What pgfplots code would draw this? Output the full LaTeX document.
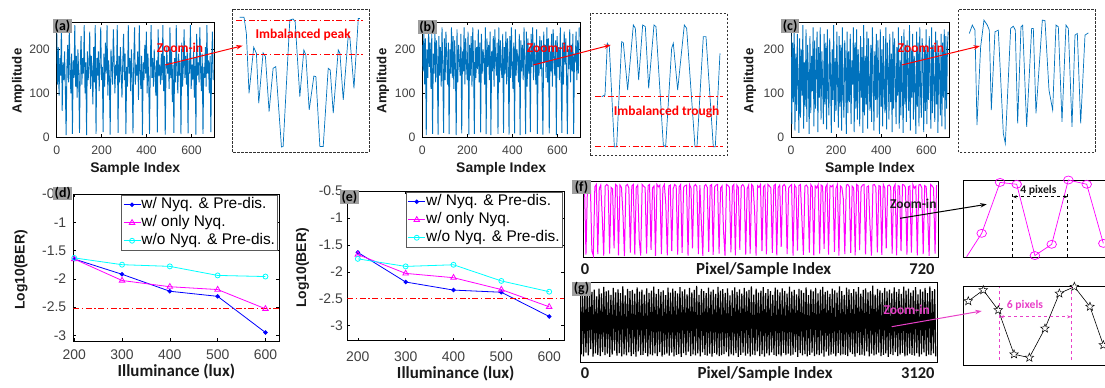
\documentclass[border=0pt]{standalone}
\usepackage{fontspec}
\setmainfont{Liberation Sans}
\newfontfamily\calib{Carlito}
\usepackage{pgfplots}
\usepackage{pgfplotstable}
\pgfplotsset{compat=1.18}
\usetikzlibrary{arrows.meta}

\definecolor{mblue}{rgb}{0,0.447,0.741}
\definecolor{tickgray}{gray}{0.25}
\definecolor{txtgray}{gray}{0.1}
\definecolor{lblgray}{gray}{0.62}
\definecolor{boxgray}{gray}{0.2}
\definecolor{pinkm}{RGB}{232,64,200}
\definecolor{mag}{RGB}{255,0,255}
\definecolor{cyn}{RGB}{0,255,255}
\newcommand\fsz[1]{\fontsize{#1}{#1}\selectfont}

\pgfdeclareplotmark{ostar}{%
 \pgfpathmoveto{\pgfpointpolar{90}{\pgfplotmarksize}}%
 \pgfpathlineto{\pgfpointpolar{126}{0.42*\pgfplotmarksize}}%
 \pgfpathlineto{\pgfpointpolar{162}{\pgfplotmarksize}}%
 \pgfpathlineto{\pgfpointpolar{198}{0.42*\pgfplotmarksize}}%
 \pgfpathlineto{\pgfpointpolar{234}{\pgfplotmarksize}}%
 \pgfpathlineto{\pgfpointpolar{270}{0.42*\pgfplotmarksize}}%
 \pgfpathlineto{\pgfpointpolar{306}{\pgfplotmarksize}}%
 \pgfpathlineto{\pgfpointpolar{342}{0.42*\pgfplotmarksize}}%
 \pgfpathlineto{\pgfpointpolar{18}{\pgfplotmarksize}}%
 \pgfpathlineto{\pgfpointpolar{54}{0.42*\pgfplotmarksize}}%
 \pgfpathclose\pgfusepathqfillstroke}

% ---- signal (a): imbalanced peaks
\pgfplotstableread[row sep=\\,header=false]{
250\\ 120\\ 205\\ 95\\ 180\\ 140\\ 255\\ 60\\ 170\\ 130\\ 195\\ 110\\ 5\\ 160\\ 210\\ 125\\ 245\\ 150\\ 100\\ 190\\
8\\ 175\\ 135\\ 255\\ 115\\ 185\\ 90\\ 200\\ 140\\ 10\\ 165\\ 230\\ 120\\ 180\\ 145\\ 255\\ 100\\ 170\\ 5\\ 195\\
130\\ 160\\ 240\\ 110\\ 185\\ 150\\ 75\\ 205\\ 125\\ 255\\ 8\\ 180\\ 140\\ 195\\ 105\\ 170\\ 250\\ 130\\ 160\\ 12\\
190\\ 115\\ 215\\ 145\\ 255\\ 95\\ 175\\ 135\\ 6\\ 200\\ 160\\ 120\\ 245\\ 180\\ 100\\ 165\\ 140\\ 255\\ 10\\ 185\\
125\\ 205\\ 150\\ 90\\ 170\\ 235\\ 130\\ 190\\ 7\\ 160\\ 115\\ 255\\ 145\\ 180\\ 105\\ 200\\ 135\\ 9\\ 175\\ 250\\
120\\ 165\\ 140\\ 195\\ 85\\ 255\\ 150\\ 110\\ 185\\ 5\\ 170\\ 130\\ 210\\ 145\\ 240\\ 100\\ 190\\ 125\\ 8\\ 160\\
255\\ 135\\ 180\\ 115\\ 200\\ 150\\ 95\\ 175\\ 11\\ 245\\ 140\\ 165\\ 120\\ 190\\ 130\\ 255\\ 105\\ 185\\ 6\\ 155\\
205\\ 145\\ 170\\ 110\\ 250\\ 135\\ 195\\ 80\\ 165\\ 10\\ 180\\ 125\\ 255\\ 150\\ 100\\ 190\\ 140\\ 170\\ 7\\ 215\\
115\\ 160\\ 245\\ 135\\ 185\\ 120\\ 200\\ 9\\ 175\\ 145\\ 255\\ 110\\ 165\\ 130\\ 195\\ 90\\ 180\\ 6\\ 235\\ 140\\
170\\ 125\\ 250\\ 150\\ 105\\ 190\\ 8\\ 160\\ 135\\ 205\\ 115\\ 255\\ 145\\ 175\\ 100\\ 185\\ 12\\ 165\\ 240\\ 130\\
}\sigA
% ---- signal (b): imbalanced troughs
\pgfplotstableread[row sep=\\,header=false]{
210\\ 150\\ 240\\ 120\\ 225\\ 5\\ 200\\ 135\\ 250\\ 160\\ 215\\ 110\\ 235\\ 8\\ 190\\ 145\\ 245\\ 125\\ 220\\ 170\\
6\\ 230\\ 140\\ 205\\ 115\\ 250\\ 155\\ 10\\ 225\\ 130\\ 240\\ 180\\ 120\\ 215\\ 7\\ 200\\ 145\\ 250\\ 135\\ 230\\
110\\ 220\\ 160\\ 5\\ 245\\ 125\\ 210\\ 175\\ 140\\ 235\\ 9\\ 195\\ 150\\ 250\\ 120\\ 225\\ 165\\ 130\\ 240\\ 6\\
210\\ 140\\ 230\\ 115\\ 250\\ 170\\ 8\\ 220\\ 135\\ 205\\ 155\\ 245\\ 125\\ 215\\ 11\\ 235\\ 145\\ 200\\ 180\\ 120\\
250\\ 7\\ 225\\ 160\\ 210\\ 130\\ 240\\ 5\\ 195\\ 150\\ 230\\ 115\\ 245\\ 175\\ 140\\ 215\\ 8\\ 250\\ 125\\ 220\\
160\\ 135\\ 235\\ 10\\ 205\\ 145\\ 240\\ 120\\ 225\\ 170\\ 6\\ 230\\ 135\\ 250\\ 155\\ 110\\ 215\\ 9\\ 245\\ 140\\
200\\ 180\\ 125\\ 235\\ 5\\ 220\\ 150\\ 210\\ 130\\ 250\\ 165\\ 7\\ 240\\ 115\\ 225\\ 145\\ 205\\ 12\\ 235\\ 160\\
250\\ 130\\ 215\\ 175\\ 120\\ 245\\ 8\\ 200\\ 140\\ 230\\ 155\\ 220\\ 110\\ 6\\ 240\\ 170\\ 210\\ 135\\ 250\\ 125\\
225\\ 9\\ 195\\ 150\\ 235\\ 115\\ 245\\ 180\\ 140\\ 220\\ 5\\ 230\\ 160\\ 205\\ 130\\ 250\\ 145\\ 10\\ 215\\ 120\\
240\\ 165\\ 225\\ 135\\ 7\\ 200\\ 155\\ 245\\ 125\\ 210\\ 150\\ 235\\ 8\\ 190\\ 170\\ 240\\ 130\\ 220\\ 145\\ 250\\
}\sigB
% ---- signal (c): balanced
\pgfplotstableread[row sep=\\,header=false]{
240\\ 30\\ 215\\ 80\\ 250\\ 15\\ 190\\ 60\\ 235\\ 120\\ 10\\ 225\\ 45\\ 200\\ 95\\ 255\\ 20\\ 170\\ 70\\ 245\\
35\\ 210\\ 140\\ 8\\ 230\\ 55\\ 185\\ 105\\ 250\\ 25\\ 220\\ 65\\ 160\\ 240\\ 12\\ 205\\ 90\\ 250\\ 40\\ 195\\
130\\ 30\\ 235\\ 75\\ 215\\ 18\\ 245\\ 110\\ 50\\ 225\\ 150\\ 10\\ 200\\ 85\\ 255\\ 35\\ 180\\ 60\\ 240\\ 125\\
22\\ 230\\ 70\\ 210\\ 15\\ 250\\ 100\\ 45\\ 220\\ 165\\ 8\\ 240\\ 55\\ 195\\ 80\\ 235\\ 30\\ 175\\ 120\\ 250\\
12\\ 215\\ 65\\ 245\\ 40\\ 200\\ 140\\ 25\\ 230\\ 90\\ 205\\ 10\\ 255\\ 50\\ 185\\ 75\\ 240\\ 20\\ 225\\ 115\\
60\\ 210\\ 35\\ 250\\ 150\\ 15\\ 195\\ 85\\ 235\\ 45\\ 220\\ 130\\ 8\\ 245\\ 70\\ 200\\ 25\\ 230\\ 105\\ 55\\
250\\ 18\\ 215\\ 160\\ 40\\ 235\\ 80\\ 190\\ 12\\ 240\\ 65\\ 225\\ 135\\ 30\\ 205\\ 95\\ 250\\ 20\\ 175\\ 50\\
230\\ 110\\ 10\\ 245\\ 75\\ 210\\ 35\\ 220\\ 145\\ 60\\ 255\\ 15\\ 200\\ 90\\ 235\\ 40\\ 185\\ 125\\ 8\\ 240\\
70\\ 215\\ 25\\ 250\\ 100\\ 45\\ 225\\ 170\\ 12\\ 205\\ 60\\ 245\\ 30\\ 195\\ 85\\ 230\\ 140\\ 20\\ 250\\ 55\\
210\\ 115\\ 35\\ 240\\ 75\\ 220\\ 10\\ 200\\ 155\\ 50\\ 235\\ 25\\ 215\\ 90\\ 245\\ 18\\ 230\\ 65\\ 205\\ 240\\
}\sigC
% ---- signal (f): 720 pixels
\pgfplotstableread[row sep=\\,header=false]{
245\\ 250\\ 8\\ 240\\ 248\\ 245\\ 20\\ 5\\ 242\\ 250\\ 10\\ 236\\ 248\\ 140\\ 5\\ 244\\ 250\\ 246\\ 12\\ 240\\
235\\ 30\\ 250\\ 245\\ 6\\ 248\\ 240\\ 150\\ 3\\ 246\\ 250\\ 238\\ 15\\ 245\\ 250\\ 8\\ 240\\ 248\\ 60\\ 5\\
250\\ 244\\ 240\\ 12\\ 246\\ 250\\ 25\\ 238\\ 245\\ 4\\ 250\\ 242\\ 248\\ 10\\ 240\\ 250\\ 180\\ 6\\ 245\\ 248\\
20\\ 236\\ 250\\ 245\\ 8\\ 242\\ 250\\ 14\\ 240\\ 246\\ 248\\ 5\\ 250\\ 238\\ 30\\ 244\\ 250\\ 242\\ 10\\ 248\\
120\\ 4\\ 245\\ 250\\ 240\\ 18\\ 246\\ 250\\ 7\\ 242\\ 248\\ 250\\ 12\\ 238\\ 245\\ 90\\ 5\\ 250\\ 246\\ 240\\
16\\ 244\\ 250\\ 6\\ 248\\ 240\\ 25\\ 245\\ 250\\ 242\\ 8\\ 236\\ 248\\ 12\\ 250\\ 244\\ 160\\ 5\\ 246\\ 240\\
250\\ 20\\ 242\\ 248\\ 9\\ 250\\ 245\\ 238\\ 14\\ 246\\ 250\\ 6\\ 240\\ 248\\ 35\\ 244\\ 250\\ 242\\ 10\\ 238\\
245\\ 250\\ 5\\ 248\\ 240\\ 22\\ 246\\ 250\\ 130\\ 7\\ 244\\ 248\\ 240\\ 15\\ 250\\ 242\\ 6\\ 245\\ 238\\ 250\\
12\\ 248\\ 244\\ 28\\ 240\\ 250\\ 8\\ 246\\ 242\\ 248\\ 18\\ 236\\ 250\\ 5\\ 245\\ 240\\ 200\\ 10\\ 248\\ 250\\
242\\ 14\\ 244\\ 238\\ 6\\ 250\\ 246\\ 24\\ 240\\ 248\\ 250\\ 9\\ 242\\ 245\\ 110\\ 5\\ 248\\ 250\\ 240\\ 16\\
246\\ 244\\ 7\\ 250\\ 238\\ 30\\ 245\\ 248\\ 242\\ 12\\ 240\\ 250\\ 6\\ 246\\ 244\\ 20\\ 250\\ 248\\ 240\\ 8\\
242\\ 245\\ 15\\ 250\\ 238\\ 244\\ 6\\ 248\\ 250\\ 240\\ 10\\ 246\\ 242\\ 150\\ 4\\ 250\\ 245\\ 238\\ 12\\ 248\\
}\sigF
% ---- signal (g): 3120 pixels
\pgfplotstableread[row sep=\\,header=false]{
235\\ 12\\ 228\\ 5\\ 240\\ 18\\ 222\\ 8\\ 245\\ 30\\ 230\\ 4\\ 238\\ 15\\ 215\\ 10\\ 242\\ 6\\ 225\\ 20\\
248\\ 9\\ 232\\ 14\\ 236\\ 3\\ 220\\ 11\\ 244\\ 25\\ 229\\ 7\\ 239\\ 16\\ 226\\ 5\\ 250\\ 12\\ 218\\ 8\\
241\\ 19\\ 233\\ 6\\ 237\\ 13\\ 224\\ 4\\ 246\\ 22\\ 231\\ 9\\ 238\\ 10\\ 221\\ 17\\ 243\\ 5\\ 227\\ 12\\
235\\ 8\\ 249\\ 15\\ 223\\ 6\\ 240\\ 20\\ 230\\ 4\\ 236\\ 11\\ 219\\ 14\\ 245\\ 7\\ 228\\ 18\\ 242\\ 5\\
234\\ 10\\ 225\\ 13\\ 247\\ 3\\ 232\\ 16\\ 239\\ 9\\ 222\\ 21\\ 244\\ 6\\ 229\\ 12\\ 237\\ 8\\ 251\\ 15\\
220\\ 5\\ 241\\ 19\\ 233\\ 10\\ 226\\ 7\\ 245\\ 14\\ 231\\ 4\\ 238\\ 17\\ 223\\ 11\\ 248\\ 6\\ 235\\ 9\\
240\\ 13\\ 227\\ 20\\ 243\\ 5\\ 218\\ 12\\ 236\\ 8\\ 246\\ 16\\ 230\\ 3\\ 239\\ 10\\ 224\\ 18\\ 244\\ 7\\
232\\ 14\\ 237\\ 5\\ 250\\ 11\\ 221\\ 9\\ 242\\ 22\\ 228\\ 6\\ 235\\ 13\\ 247\\ 4\\ 226\\ 15\\ 240\\ 8\\
233\\ 19\\ 220\\ 10\\ 245\\ 6\\ 238\\ 12\\ 229\\ 5\\ 243\\ 17\\ 234\\ 9\\ 224\\ 14\\ 249\\ 7\\ 231\\ 11\\
237\\ 20\\ 222\\ 3\\ 241\\ 16\\ 236\\ 8\\ 227\\ 13\\ 246\\ 5\\ 219\\ 10\\ 239\\ 18\\ 232\\ 6\\ 244\\ 12\\
225\\ 9\\ 238\\ 15\\ 248\\ 4\\ 230\\ 21\\ 235\\ 7\\ 223\\ 11\\ 242\\ 14\\ 236\\ 5\\ 228\\ 17\\ 250\\ 8\\
233\\ 12\\ 220\\ 10\\ 245\\ 6\\ 239\\ 19\\ 226\\ 13\\ 240\\ 4\\ 231\\ 16\\ 247\\ 9\\ 224\\ 11\\ 237\\ 7\\
243\\ 22\\ 229\\ 5\\ 234\\ 14\\ 252\\ 8\\ 221\\ 12\\ 241\\ 18\\ 236\\ 6\\ 227\\ 10\\ 244\\ 15\\ 232\\ 3\\
238\\ 13\\ 225\\ 9\\ 246\\ 20\\ 230\\ 6\\ 240\\ 11\\ 223\\ 17\\ 249\\ 5\\ 235\\ 8\\ 242\\ 14\\ 228\\ 10\\
236\\ 7\\ 247\\ 16\\ 222\\ 4\\ 239\\ 12\\ 231\\ 19\\ 244\\ 6\\ 226\\ 11\\ 250\\ 9\\ 233\\ 15\\ 240\\ 5\\
}\sigG

\tikzset{
 rdd/.style={red, line width=0.9bp, dash pattern=on 6bp off 2.5bp on 1.5bp off 2.5bp},
 plab/.style={fill=lblgray, inner sep=0pt, anchor=north west, minimum width=18.5bp, minimum height=13.5bp, font=\calib\bfseries\fsz{14}},
 zarrow/.style={line width=1bp, -{Stealth[length=6.5bp,width=4.5bp]}},
 ztext/.style={font=\calib\bfseries\fsz{13.5}},
}
\pgfplotsset{
 mybase/.style={scale only axis, anchor=north west,
   axis line style={line width=0.6bp, black},
   tick align=inside, major tick length=3bp,
   every tick/.style={black, line width=0.5bp},
   /pgf/number format/assume math mode=true,
   tick label style={text=tickgray}},
 sig/.style={mybase, height=115.3bp, xmin=0, xmax=700, ymin=0, ymax=262,
   xtick={0,200,400,600}, ytick={0,100,200},
   tick label style={font=\fsz{12.3}},
   xticklabel style={yshift=-5bp}, yticklabel style={xshift=-3.4bp}},
 zbox/.style={scale only axis, anchor=north west, ticks=none, clip=true,
   axis line style={line width=0.8bp, boxgray, dash pattern=on 2.5bp off 1.5bp}},
 ber/.style={mybase, ytick={-3,-2.5,-2,-1.5,-1,-0.5}, xtick={200,300,400,500,600},
   tick label style={font=\fsz{14}},
   legend style={at={(1,1)}, anchor=north east, xshift=-2bp, yshift=-1bp,
     font=\fsz{15.5}, draw=gray!70!black, line width=0.5bp, inner sep=1.5bp,
     row sep=2bp, nodes={inner sep=0.5bp, text height=11.5bp, text depth=3.5bp},
     cells={anchor=west}},
   legend image code/.code={\draw[mark repeat=2,mark phase=2,##1] plot coordinates {(0bp,0bp)(8.5bp,0bp)(17bp,0bp)};}},
 pix/.style={scale only axis, anchor=north west, ticks=none, axis line style={line width=0.8bp, black}},
}

\begin{document}
\begin{tikzpicture}
\useasboundingbox (0,0) rectangle (1105bp,-388bp);

% ===================== (a)
\begin{axis}[sig, at={(56.7bp,-22bp)}, width=157.3bp]
\addplot[mblue, line width=0.9bp] table[x expr=\coordindex*3.5, y index=0] {\sigA};
\end{axis}
\begin{axis}[zbox, at={(232bp,-9bp)}, width=137bp, height=143bp, xmin=0, xmax=41, ymin=0, ymax=258]
\addplot[mblue, line width=0.7bp] coordinates {(2.3,243)(3.6,243)(4.3,214)(5.1,106)(6.5,189)(7.3,178)(8.0,88)(9.3,179)(10.0,172)(11.1,73)(12.3,151)(13.1,154)(13.8,94)(14.8,9)(15.3,10)(17.3,238)(18.3,240)(18.9,235)(20.3,100)(21.5,184)(22.1,175)(23.1,76)(24.5,137)(25.1,136)(26.3,10)(27.3,10)(28.8,151)(29.4,148)(30.3,70)(31.8,184)(32.3,178)(33.3,94)(34.8,211)(35.3,205)(36.5,115)(37.8,241)(38.3,241)};
\addplot[rdd] coordinates {(1.3,238)(39.3,238)};
\addplot[rdd] coordinates {(1.3,176)(39.3,176)};
\node[ztext, red] at (axis cs:21.3,211) {Imbalanced peak};
\end{axis}

% ===================== (b)
\begin{axis}[sig, at={(422.3bp,-22bp)}, width=157.7bp]
\addplot[mblue, line width=0.9bp] table[x expr=\coordindex*3.5, y index=0] {\sigB};
\end{axis}
\begin{axis}[zbox, at={(590bp,-13.3bp)}, width=137.3bp, height=142.3bp, xmin=0, xmax=41.2, ymin=0, ymax=256]
\addplot[mblue, line width=0.7bp] coordinates {(3.5,106)(4.5,109)(5.2,202)(5.8,196)(7.3,16)(8.0,16)(9.5,205)(10.0,203)(11.3,118)(13.0,235)(13.6,229)(14.6,136)(15.8,235)(16.6,232)(17.6,121)(19.2,235)(19.8,232)(22.0,19)(22.7,16)(24.5,193)(25.0,202)(26.3,118)(28.3,235)(29.0,229)(31.5,16)(32.1,16)(34.0,214)(34.8,214)(37.0,16)(37.6,16)(39.0,184)};
\addplot[rdd] coordinates {(1.5,106)(40,106)};
\addplot[rdd] coordinates {(1.5,16)(40,16)};
\node[ztext, red] at (axis cs:23,79) {Imbalanced trough};
\end{axis}

% ===================== (c)
\begin{axis}[sig, at={(791bp,-22bp)}, width=158bp]
\addplot[mblue, line width=0.9bp] table[x expr=\coordindex*3.5, y index=0] {\sigC};
\end{axis}
\begin{axis}[zbox, at={(958.3bp,-9bp)}, width=136.7bp, height=143.3bp, xmin=0, xmax=41, ymin=0, ymax=258]
\addplot[mblue, line width=0.7bp] coordinates {(3.3,214)(4.2,229)(5.0,220)(5.6,49)(6.7,190)(7.7,238)(8.7,229)(9.3,220)(9.9,76)(11.0,217)(12.0,220)(13.5,34)(14.1,16)(15.7,223)(16.5,227)(17.1,220)(17.8,52)(18.8,226)(19.3,229)(20.5,46)(22.0,223)(22.5,223)(23.3,70)(25.2,238)(26.0,237)(27.2,112)(28.3,76)(29.3,229)(30.0,226)(31.1,55)(32.3,229)(33.0,223)(34.1,46)(35.0,211)(35.7,214)(36.7,52)(38.0,211)(39.0,215)};
\end{axis}

% ===================== (d)
\begin{axis}[ber, at={(73.3bp,-194bp)}, width=206bp, height=147bp, xmin=198, xmax=629, ymin=-3.1, ymax=-0.5,
  xticklabel style={yshift=-5.5bp}, yticklabel style={xshift=-3.6bp}]
\addplot[blue, line width=0.8bp, mark=*, mark size=1.8bp] coordinates {(200,-1.65)(300,-1.92)(400,-2.22)(500,-2.31)(600,-2.95)};
\addlegendentry{w/ Nyq. \& Pre-dis.}
\addplot[mag, line width=0.8bp, mark=triangle, mark size=3.2bp, mark options={solid}] coordinates {(200,-1.65)(300,-2.03)(400,-2.14)(500,-2.19)(600,-2.53)};
\addlegendentry{w/ only Nyq.}
\addplot[cyn, line width=0.8bp, mark=o, mark size=2.5bp] coordinates {(200,-1.63)(300,-1.75)(400,-1.78)(500,-1.94)(600,-1.96)};
\addlegendentry{w/o Nyq. \& Pre-dis.}
\addplot[rdd, forget plot] coordinates {(198,-2.52)(629,-2.52)};
\end{axis}

% ===================== (e)
\begin{axis}[ber, at={(347.3bp,-191bp)}, width=216.7bp, height=149.7bp, xmin=178, xmax=631, ymin=-3.28, ymax=-0.5,
  xticklabel style={yshift=-7.5bp}, yticklabel style={xshift=-1bp}]
\addplot[blue, line width=0.8bp, mark=*, mark size=1.8bp] coordinates {(200,-1.64)(300,-2.19)(400,-2.34)(500,-2.38)(600,-2.83)};
\addlegendentry{w/ Nyq. \& Pre-dis.}
\addplot[mag, line width=0.8bp, mark=triangle, mark size=3.2bp] coordinates {(200,-1.68)(300,-2.03)(400,-2.11)(500,-2.33)(600,-2.65)};
\addlegendentry{w/ only Nyq.}
\addplot[cyn, line width=0.8bp, mark=o, mark size=2.5bp] coordinates {(200,-1.76)(300,-1.90)(400,-1.87)(500,-2.17)(600,-2.37)};
\addlegendentry{w/o Nyq. \& Pre-dis.}
\addplot[rdd, forget plot] coordinates {(178,-2.49)(631,-2.49)};
\end{axis}

% ===================== (f)
\begin{axis}[pix, at={(583bp,-181bp)}, width=355bp, height=76bp, xmin=0, xmax=720, ymin=0, ymax=262]
\addplot[mag, line width=1bp] table[x expr=\coordindex*3, y index=0] {\sigF};
\end{axis}
\begin{axis}[pix, at={(963.3bp,-180bp)}, width=148.7bp, height=77.7bp, xmin=0, xmax=8.58, ymin=0, ymax=255, clip=false]
\addplot[mag, line width=0.7bp, mark=o, mark size=4bp, mark indices={2,...,9}, mark options={xscale=1.2}] coordinates {(0.19,3)(1.06,80)(2.12,247)(3.08,241)(4.13,7)(5.10,44)(6.06,255)(7.12,241)(8.08,47)};
\draw[black, line width=0.9bp, dashed] (axis cs:2.85,3) -- (axis cs:2.85,211);
\draw[black, line width=0.9bp, dashed] (axis cs:6.02,3) -- (axis cs:6.02,211);
\draw[black, line width=0.9bp, dashed, {Stealth[length=4bp]}-{Stealth[length=4bp]}] (axis cs:2.85,200) -- (axis cs:6.02,200);
\node[font=\calib\bfseries\fsz{11.7}, text=txtgray] at (axis cs:4.33,222) {4 pixels};
\end{axis}

% ===================== (g)
\begin{axis}[pix, at={(580bp,-282bp)}, width=357bp, height=80bp, xmin=0, xmax=3120, ymin=-15, ymax=265]
\addplot[black, line width=1.2bp] table[x expr=\coordindex*10.4, y index=0] {\sigG};
\end{axis}
\begin{axis}[pix, at={(963.3bp,-286.7bp)}, width=148.7bp, height=78.3bp, xmin=0, xmax=9.91, ymin=0, ymax=255, clip=false]
\addplot[black, line width=0.6bp, mark=ostar, mark size=4.5bp, mark indices={1,...,10}, mark options={fill=white, line width=0.5bp}] coordinates {(0.33,208)(1.33,244)(2.33,179)(3.38,35)(4.4,24)(5.44,119)(6.4,233)(7.4,255)(8.44,190)(9.33,65)(10.2,0)};
\draw[pinkm, line width=0.9bp, dashed] (axis cs:2.44,16) -- (axis cs:2.44,255);
\draw[pinkm, line width=0.9bp, dashed] (axis cs:7.18,16) -- (axis cs:7.18,255);
\draw[pinkm, line width=0.9bp, dashed, {Stealth[length=4bp]}-{Stealth[length=4bp]}] (axis cs:2.44,157) -- (axis cs:7.18,157);
\node[font=\calib\bfseries\fsz{11.7}, text=pinkm] at (axis cs:4.11,193) {6 pixels};
\end{axis}

% ===================== labels
\node[font=\bfseries\fsz{13.3}, text=txtgray, rotate=90] at (18.3bp,-81bp) {Amplitude};
\node[font=\bfseries\fsz{13.3}, text=txtgray, rotate=90] at (383bp,-81bp) {Amplitude};
\node[font=\bfseries\fsz{13.3}, text=txtgray, rotate=90] at (750bp,-81bp) {Amplitude};
\node[font=\bfseries\fsz{14}, text=txtgray, anchor=base] at (135.3bp,-172.3bp) {Sample Index};
\node[font=\bfseries\fsz{14}, text=txtgray, anchor=base] at (501.2bp,-172.3bp) {Sample Index};
\node[font=\bfseries\fsz{14}, text=txtgray, anchor=base] at (870bp,-172.3bp) {Sample Index};
\node[font=\bfseries\fsz{14}, text=txtgray, rotate=90] at (21bp,-270bp) {Log10(BER)};
\node[font=\bfseries\fsz{14}, text=txtgray, rotate=90] at (302.5bp,-268bp) {Log10(BER)};
\node[font=\calib\bfseries\fsz{17}, text=txtgray, anchor=base] at (176.3bp,-376bp) {Illuminance (lux)};
\node[font=\calib\bfseries\fsz{17}, text=txtgray, anchor=base] at (455.7bp,-378bp) {Illuminance (lux)};
\node[font=\calib\bfseries\fsz{17}, text=txtgray, anchor=base] at (763.7bp,-274.3bp) {Pixel/Sample Index};
\node[font=\calib\bfseries\fsz{16.5}, text=txtgray, anchor=base] at (585bp,-274.3bp) {0};
\node[font=\calib\bfseries\fsz{16.5}, text=txtgray, anchor=base east] at (938bp,-274.3bp) {720};
\node[font=\calib\bfseries\fsz{17}, text=txtgray, anchor=base] at (765bp,-378.3bp) {Pixel/Sample Index};
\node[font=\calib\bfseries\fsz{16.5}, text=txtgray, anchor=base] at (585bp,-378.3bp) {0};
\node[font=\calib\bfseries\fsz{16.5}, text=txtgray, anchor=base east] at (938bp,-378.3bp) {3120};

% zoom-in arrows
\draw[zarrow, red] (165bp,-65bp) -- (242.7bp,-45.7bp);
\node[ztext, red] at (180bp,-47.7bp) {Zoom-in};
\draw[zarrow, red] (533.3bp,-65bp) -- (610.7bp,-45bp);
\node[ztext, red] at (550bp,-47.7bp) {Zoom-in};
\draw[zarrow, red] (901.7bp,-65bp) -- (980bp,-46bp);
\node[ztext, red] at (921bp,-47.7bp) {Zoom-in};
\draw[zarrow, black] (900bp,-218.3bp) -- (986.7bp,-204.3bp);
\node[ztext, text=txtgray] at (913.3bp,-204bp) {Zoom-in};
\draw[zarrow, pinkm] (891.7bp,-326.7bp) -- (981.7bp,-311bp);
\node[ztext, text=pinkm] at (906.7bp,-309.5bp) {Zoom-in};

% panel labels
\node[plab] at (53bp,-19bp) {(a)};
\node[plab] at (418bp,-20bp) {(b)};
\node[plab] at (780.7bp,-19bp) {(c)};
\node[plab] at (53.3bp,-186.7bp) {(d)};
\node[plab] at (340bp,-190bp) {(e)};
\node[plab] at (572bp,-180bp) {(f)};
\node[plab] at (572bp,-282bp) {(g)};
\end{tikzpicture}
\end{document}
